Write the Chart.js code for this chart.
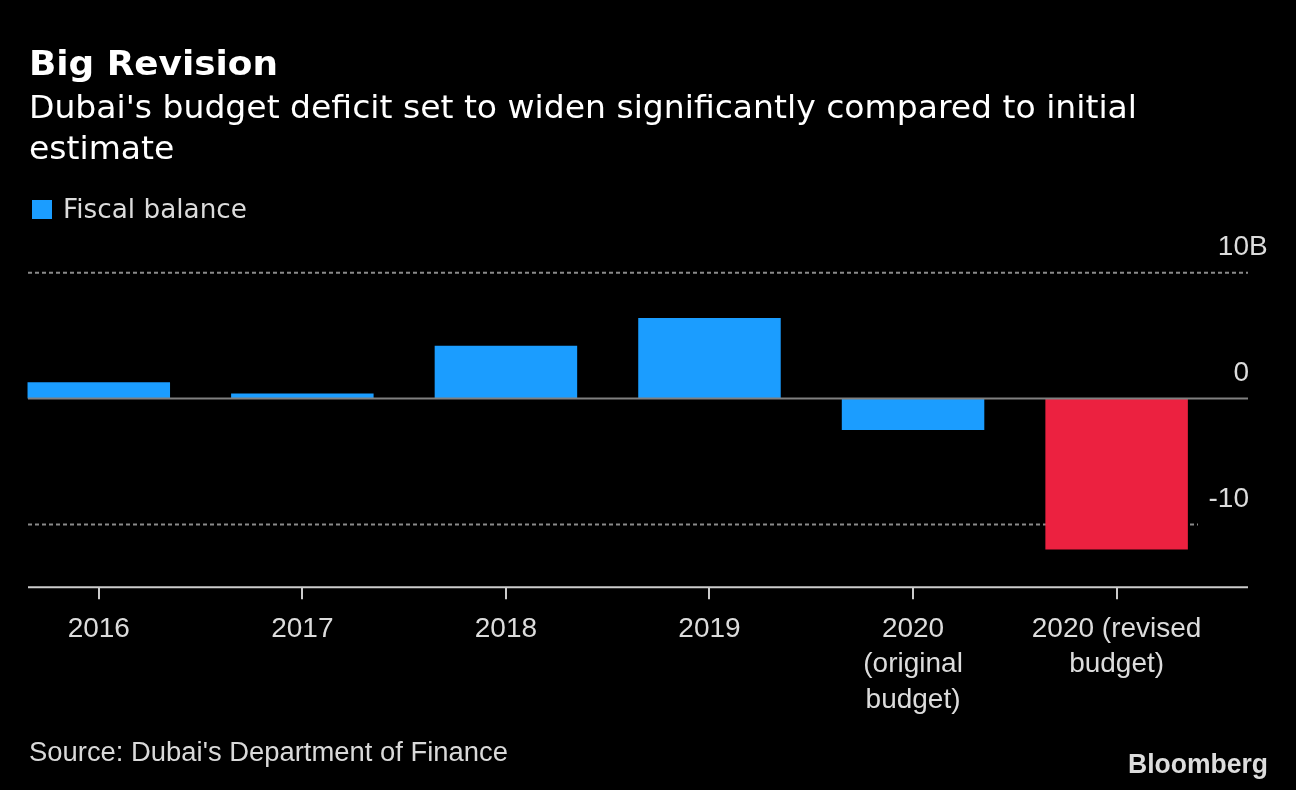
<!DOCTYPE html>
<html><head><meta charset="utf-8">
<script src="https://cdn.jsdelivr.net/npm/chart.js@4/dist/chart.umd.min.js"></script>
<style>
html,body{margin:0;padding:0;background:#000;width:1296px;height:790px;overflow:hidden;}
#wrap{position:absolute;left:-3px;top:0;width:1299px;height:790px;}
.t{position:absolute;white-space:nowrap;margin:0;padding:0;}
</style></head><body>
<div id="wrap"><canvas id="c" width="1299" height="790"></canvas></div>
<div class="t" id="title">Big Revision</div>
<div class="t" id="sub1">Dubai's budget deficit set to widen significantly compared to initial</div>
<div class="t" id="sub2">estimate</div>
<div id="swatch" style="position:absolute;left:32px;top:200px;width:20px;height:19px;"></div>
<div class="t" id="legendText"></div>
<div class="t" id="source">Source: Dubai's Department of Finance</div>
<div class="t" id="logo">Bloomberg</div>
<script>
// ---- data ----
const categories = ["2016", "2017", "2018", "2019", "2020 (original budget)", "2020 (revised budget)"];
const categoryLines = [["2016"], ["2017"], ["2018"], ["2019"], ["2020", "(original", "budget)"], ["2020 (revised", "budget)"]];
const fiscalBalance = [1.3, 0.4, 4.2, 6.4, -2.5, -12.0];
const barColors = ["#1B9DFF", "#1B9DFF", "#1B9DFF", "#1B9DFF", "#1B9DFF", "#EC2140"];
const seriesName = "Fiscal balance";
const yTickValues = [10, 0, -10];
const yTickLabels = ["10", "0", "-10"];
const yTickSuffixes = ["B", "", ""];

// ---- html text placement ----
const mctx = document.createElement('canvas').getContext('2d');
function place(id, o) {
  const el = document.getElementById(id);
  el.style.font = o.font;
  el.style.lineHeight = o.size + 'px';
  el.style.color = o.color;
  mctx.font = o.font;
  const m = mctx.measureText(el.textContent);
  const A = m.fontBoundingBoxAscent, D = m.fontBoundingBoxDescent;
  el.style.top = (o.baseline - ((o.size - (A + D)) / 2 + A)) + 'px';
  const s = o.scale !== undefined ? o.scale : (o.width ? o.width / m.width : 1);
  const w = m.width * s;
  el.style.left = (o.right !== undefined ? o.right - w : o.left) + 'px';
  el.style.transformOrigin = '0 0';
  el.style.transform = 'scaleX(' + s + ')';
  return s;
}
document.getElementById('legendText').textContent = seriesName;
document.getElementById('swatch').style.background = barColors[0];
place('title', {font: 'bold 34px "DejaVu Sans"', size: 34, color: '#ffffff', left: 29, baseline: 75, width: 249});
const subScale = place('sub1', {font: '32px "DejaVu Sans"', size: 32, color: '#ffffff', left: 29, baseline: 118.3, width: 1108});
place('sub2', {font: '32px "DejaVu Sans"', size: 32, color: '#ffffff', left: 29, baseline: 158.5, scale: subScale});
place('legendText', {font: '27px "DejaVu Sans"', size: 27, color: '#dcdcdc', left: 63, baseline: 218, width: 184});
place('source', {font: '27px "Liberation Sans"', size: 27, color: '#d9d9d9', left: 29, baseline: 761.7, width: 479});
place('logo', {font: 'bold 28px "Liberation Sans"', size: 28, color: '#dcdcdc', right: 1268, baseline: 773.3, width: 140});

// ---- chart ----
const OX = 3; // canvas is shifted 3px left of the page
const AX_L = 28 + OX, AX_R = 1248 + OX, LABEL_X = 1249 + OX;
const deco = {
  id: 'deco',
  beforeDatasetsDraw(chart) {
    const ctx = chart.ctx, y = chart.scales.y;
    ctx.save();
    ctx.strokeStyle = '#8a8a8a';
    ctx.lineWidth = 2;
    ctx.setLineDash([4, 3]);
    yTickValues.forEach(v => {
      if (v === 0) return;
      const py = y.getPixelForValue(v);
      ctx.beginPath();
      ctx.moveTo(AX_L, py);
      ctx.lineTo(v < 0 ? 1198 + OX : AX_R, py);
      ctx.stroke();
    });
    ctx.restore();
  },
  afterDatasetsDraw(chart) {
    const ctx = chart.ctx, y = chart.scales.y, x = chart.scales.x;
    ctx.save();
    ctx.setLineDash([]);
    // zero line
    const p0 = y.getPixelForValue(0);
    ctx.strokeStyle = '#808080';
    ctx.lineWidth = 2;
    ctx.beginPath(); ctx.moveTo(AX_L, p0); ctx.lineTo(AX_R, p0); ctx.stroke();
    // bottom axis
    const pb = chart.chartArea.bottom;
    ctx.strokeStyle = '#cccccc';
    ctx.beginPath(); ctx.moveTo(AX_L, pb); ctx.lineTo(AX_R, pb); ctx.stroke();
    categories.forEach((c, i) => {
      const px = Math.round(x.getPixelForValue(i));
      ctx.beginPath(); ctx.moveTo(px, pb); ctx.lineTo(px, pb + 12); ctx.stroke();
    });
    // x labels
    ctx.fillStyle = '#dcdcdc';
    ctx.font = '28px "Liberation Sans"';
    ctx.textAlign = 'center';
    ctx.textBaseline = 'alphabetic';
    categoryLines.forEach((lines, i) => {
      const px = x.getPixelForValue(i);
      lines.forEach((ln, k) => ctx.fillText(ln, px, 636.7 + k * 35.6));
    });
    // y labels
    yTickValues.forEach((v, i) => {
      const py = y.getPixelForValue(v) - 17.7;
      ctx.textAlign = 'right';
      ctx.fillText(yTickLabels[i], LABEL_X, py);
      if (yTickSuffixes[i]) {
        ctx.textAlign = 'left';
        ctx.fillText(yTickSuffixes[i], LABEL_X, py);
      }
    });
    ctx.restore();
  }
};

new Chart(document.getElementById('c'), {
  type: 'bar',
  data: {
    labels: categories,
    datasets: [{
      label: seriesName,
      data: fiscalBalance,
      backgroundColor: barColors,
      borderWidth: 0,
      categoryPercentage: 1,
      barPercentage: 0.7
    }]
  },
  options: {
    responsive: false,
    animation: false,
    devicePixelRatio: 1,
    layout: {padding: {left: 0, right: 77.6, top: 272.7, bottom: 202.7}},
    scales: {
      x: {display: false},
      y: {display: false, min: -15, max: 10}
    },
    plugins: {legend: {display: false}, tooltip: {enabled: false}}
  },
  plugins: [deco]
});
</script>
</body></html>
